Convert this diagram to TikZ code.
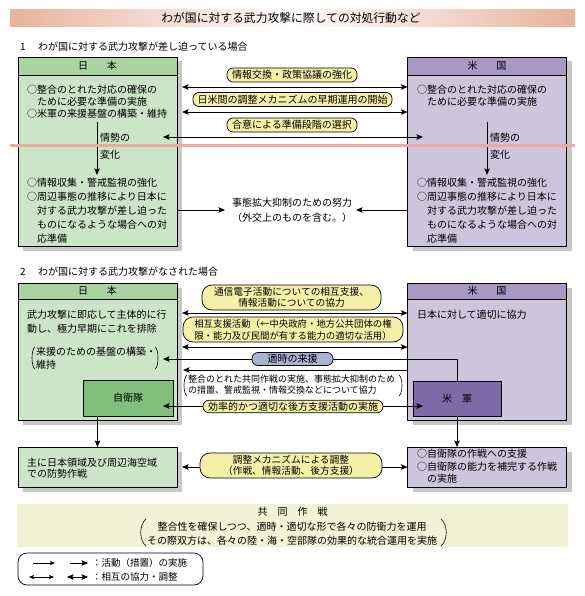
\documentclass[tikz,border=0pt]{standalone}
\usepackage{fontspec}
\setmainfont{Noto Sans CJK JP}
\usetikzlibrary{arrows.meta,shadows,calc}
\definecolor{jpHead}{HTML}{A8D4A0}
\definecolor{jpBody}{HTML}{CCE4C8}
\definecolor{usHead}{HTML}{A898C4}
\definecolor{usBody}{HTML}{CDC5DC}
\definecolor{sdfC}{HTML}{80C07C}
\definecolor{usfC}{HTML}{7E6AA6}
\definecolor{pillY}{HTML}{F5F0A8}
\definecolor{pillB}{HTML}{A8B4D2}
\definecolor{jointC}{HTML}{F2F2D4}
\definecolor{shadowC}{HTML}{C8C8C8}
\definecolor{pinkC}{HTML}{F2A8A2}
\definecolor{titleC}{HTML}{E8B29C}
\newcommand{\fs}[2]{\fontsize{#1}{#2}\selectfont}
\begin{document}
\begin{tikzpicture}[x=1pt,y=-1pt,
  >={Stealth[length=6.5pt,width=5.5pt,inset=1.2pt]},
  every node/.style={inner sep=0pt, outer sep=0pt},
  txt/.style={anchor=west, align=left, font=\fs{10}{12}},
  bigbox/.style={draw, line width=0.8pt, anchor=north west, minimum width=159pt,
     drop shadow={shadow xshift=5pt, shadow yshift=-4.5pt, fill=shadowC, opacity=1}},
  headband/.style={draw, line width=0.8pt, anchor=north west, minimum width=159pt, minimum height=18pt, font=\fs{10}{12}},
  innerbox/.style={draw, line width=0.8pt, anchor=north west, font=\fs{10}{12}},
  pill/.style={draw, line width=0.7pt, fill=pillY, rounded corners=6pt, minimum height=14pt, align=center, font=\fs{10}{12}},
  pilltwo/.style={pill, rounded corners=10pt, minimum height=25pt},
  conn/.style={line width=0.8pt},
  brk/.style={line width=0.6pt},
]
\useasboundingbox (0,0) rectangle (585,596);
\fill[white] (0,0) rectangle (585,596);

% ---------- title ----------
\shade[left color=titleC, right color=white] (10,10) rectangle (292,27);
\shade[left color=white, right color=titleC] (292,10) rectangle (575,27);
\node[font=\fs{11.8}{14}] (title) at (291,18.5) {わが国に対する武力攻撃に際しての対処行動など};

% ---------- section 1 ----------
\node[txt] (s1no) at (20,47) {1};
\node[txt] (s1) at (38,47) {わが国に対する武力攻撃が差し迫っている場合};

\node[bigbox, fill=jpBody, minimum height=189pt] (jp1) at (18,57) {};
\node[headband, fill=jpHead] (jp1h) at (18,57) {日\hspace{1.9em}本};
\node[bigbox, fill=usBody, minimum height=189pt] (us1) at (407.5,57) {};
\node[headband, fill=usHead] (us1h) at (407.5,57) {米\hspace{1.9em}国};

\node[txt] (jp1a) at (27,102) {○整合のとれた対応の確保の\\\hspace*{1em}ために必要な準備の実施\\○米軍の来援基盤の構築・維持};
\node[txt, font=\fs{10}{14}] (jp1b) at (27,211) {○情報収集・警戒監視の強化\\○周辺事態の推移により日本に\\\hspace*{1em}対する武力攻撃が差し迫った\\\hspace*{1em}ものになるような場合への対\\\hspace*{1em}応準備};
\node[txt, font=\fs{10}{17}] (jp1chg) at (100,146.5) {情勢の\\変化};

\node[txt] (us1a) at (417,96) {○整合のとれた対応の確保の\\\hspace*{1em}ために必要な準備の実施};
\node[txt, font=\fs{10}{14}] (us1b) at (417,211) {○情報収集・警戒監視の強化\\○周辺事態の推移により日本に\\\hspace*{1em}対する武力攻撃が差し迫った\\\hspace*{1em}ものになるような場合への対\\\hspace*{1em}応準備};
\node[txt, font=\fs{10}{17}] (us1chg) at (490,146.5) {情勢の\\変化};

% connectors section 1
\coordinate (jpv1) at (97,122);  \coordinate (jpv2) at (97,175);
\coordinate (usv1) at (487,122); \coordinate (usv2) at (487,175);
\draw[conn,->] (jpv1) -- (jpv2);
\draw[conn,->] (usv1) -- (usv2);

\coordinate (a1L) at (182,87);  \coordinate (a1R) at (407.5,87);
\coordinate (a2L) at (182,112); \coordinate (a2R) at (407.5,112);
\coordinate (a3L) at (163,137); \coordinate (a3R) at (423,137);
\draw[conn,<->] (a1L) -- (a1R);
\draw[conn,<->] (a2L) -- (a2R);
\draw[conn,<->] (a3L) -- (a3R);

\node[pill, minimum width=130pt] (p1) at (292,75) {情報交換・政策協議の強化};
\node[pill, minimum width=199pt] (p2) at (292.5,99.5) {日米間の調整メカニズムの早期運用の開始};
\node[pill, minimum width=130pt] (p3) at (292,125) {合意による準備段階の選択};

\node[align=center, font=\fs{10}{15}] (esc) at (292,210.5) {事態拡大抑制のための努力\\（外交上のものを含む。）};
\coordinate (e1L) at (177,210); \coordinate (e1T) at (225,210);
\coordinate (e2R) at (407.5,210); \coordinate (e2T) at (356,210);
\draw[conn,->] (e1L) -- (e1T);
\draw[conn,->] (e2R) -- (e2T);

% ---------- section 2 ----------
\node[txt] (s2no) at (20,272) {2};
\node[txt] (s2) at (38,272) {わが国に対する武力攻撃がなされた場合};

\node[bigbox, fill=jpBody, minimum height=137pt] (jp2) at (18,283) {};
\node[headband, fill=jpHead, minimum height=16pt] (jp2h) at (18,283) {日\hspace{1.9em}本};
\node[bigbox, fill=usBody, minimum height=137pt] (us2) at (407.5,283) {};
\node[headband, fill=usHead, minimum height=16pt] (us2h) at (407.5,283) {米\hspace{1.9em}国};

\node[txt, font=\fs{10}{14}] (jp2a) at (27,322) {武力攻撃に即応して主体的に行\\動し、極力早期にこれを排除};
\node[txt, font=\fs{10}{12.5}] (jp2b) at (36,358) {来援のための基盤の構築・\\維持};
\draw[brk] (35,347) .. controls (31,349) and (31,367) .. (35,369);
\draw[brk] (155,347) .. controls (159,349) and (159,367) .. (155,369);
\node[innerbox, fill=sdfC, minimum width=90pt, minimum height=36pt] (sdf) at (83,380) {自衛隊};

\node[txt] (us2a) at (417,315) {日本に対して適切に協力};
\node[innerbox, fill=usfC, minimum width=88pt, minimum height=35pt] (usf) at (413,381) {米\hspace{1em}軍};

\node[bigbox, fill=jpBody, minimum height=40pt] (jp3) at (18,447) {};
\node[txt, font=\fs{10}{11.5}] (jp3t) at (27,468) {主に日本領域及び周辺海空域\\での防勢作戦};
\node[bigbox, fill=usBody, minimum height=40pt] (us3) at (407.5,447) {};
\node[txt, font=\fs{10}{12.5}] (us3t) at (417,466.5) {○自衛隊の作戦への支援\\○自衛隊の能力を補完する作戦\\\hspace*{1em}の実施};

% connectors section 2
\coordinate (b1L) at (182,313); \coordinate (b1R) at (407.5,313);
\coordinate (b2L) at (182,347); \coordinate (b2R) at (407.5,347);
\coordinate (b3L) at (183,370); \coordinate (b3R) at (407.5,370);
\coordinate (b4L) at (163,406); \coordinate (b4R) at (423,406);
\coordinate (b5L) at (182,467); \coordinate (b5R) at (407.5,467);
\coordinate (c1T) at (163,359);
\draw[conn,<->] (b1L) -- (b1R);
\draw[conn,<->] (b2L) -- (b2R);
\draw[conn,->] (b3R) -- (b3L);
\draw[conn,<->] (b4L) -- (b4R);
\draw[conn,<->] (b5L) -- (b5R);
\draw[conn,->] (usf.north) |- (c1T);
\draw[conn,->] (jp3.north |- sdf.south) -- (jp3.north);
\draw[conn,->] (usf.south) -- (usf.south |- us3.north);

\node[pilltwo, minimum width=179pt, font=\fs{9.7}{11}] (p4) at (291.5,297.5) {通信電子活動についての相互支援、\\情報活動についての協力};
\node[pilltwo, minimum width=220pt, align=left, font=\fs{9.4}{12}] (p5) at (293,329.5) {相互支援活動（←中央政府・地方公共団体の権\\限・能力及び民間が有する能力の適切な活用）};
\node[pill, fill=pillB, minimum width=81pt, minimum height=13pt] (p6) at (292.5,359) {適時の来援};
\node[txt, font=\fs{9}{11}] (coop) at (188,384.5) {整合のとれた共同作戦の実施、事態拡大抑制のため\\の措置、警戒監視・情報交換などについて協力};
\draw[brk] (187,375) .. controls (183,378) and (183,393) .. (187,396);
\draw[brk] (399,375) .. controls (403,378) and (403,393) .. (399,396);
\node[pill, minimum width=180pt, minimum height=12.5pt] (p7) at (293,406.5) {効率的かつ適切な後方支援活動の実施};
\node[pilltwo, minimum width=182pt, font=\fs{9.7}{11}] (p8) at (291,465.5) {調整メカニズムによる調整\\（作戦、情報活動、後方支援）};

% ---------- joint operations ----------
\node[fill=jointC, anchor=north west, minimum width=551pt, minimum height=43pt] (joint) at (17,504) {};
\node[font=\fs{10}{12}] (jointT) at (292.5,512) {共\hspace{1em}同\hspace{1em}作\hspace{1em}戦};
\node[align=center, font=\fs{10}{14}] (jointB) at (292,534) {整合性を確保しつつ、適時・適切な形で各々の防衛力を運用\\その際双方は、各々の陸・海・空部隊の効果的な統合運用を実施};
\draw[brk] (146,519) .. controls (139,525) and (139,540) .. (146,546);
\draw[brk] (441,519) .. controls (448,525) and (448,540) .. (441,546);

% ---------- legend ----------
\node[draw, line width=0.7pt, rounded corners=9pt, anchor=north west, minimum width=185pt, minimum height=32pt] (legend) at (18,553) {};
\coordinate (l1a) at (33,563); \coordinate (l1b) at (55,563);
\coordinate (l2a) at (70,563); \coordinate (l2b) at (88,563);
\coordinate (l3a) at (29,577); \coordinate (l3b) at (54,577);
\coordinate (l4a) at (67,577); \coordinate (l4b) at (88,577);
\draw[conn,-{Stealth[length=5pt,width=4pt,inset=1pt]}] (l1a) -- (l1b);
\draw[conn,->] (l2a) -- (l2b);
\draw[conn,{Stealth[length=5pt,width=4pt,inset=1pt]}-{Stealth[length=5pt,width=4pt,inset=1pt]}] (l3a) -- (l3b);
\draw[conn,<->] (l4a) -- (l4b);
\node[txt, font=\fs{9.5}{12}] (lg1) at (92,563) {：活動（措置）の実施};
\node[txt, font=\fs{9.5}{12}] (lg2) at (92,577) {：相互の協力・調整};

% ---------- pink rule ----------
\draw[pinkC, line width=3pt] (10,146) -- (575,146);
\end{tikzpicture}
\end{document}
